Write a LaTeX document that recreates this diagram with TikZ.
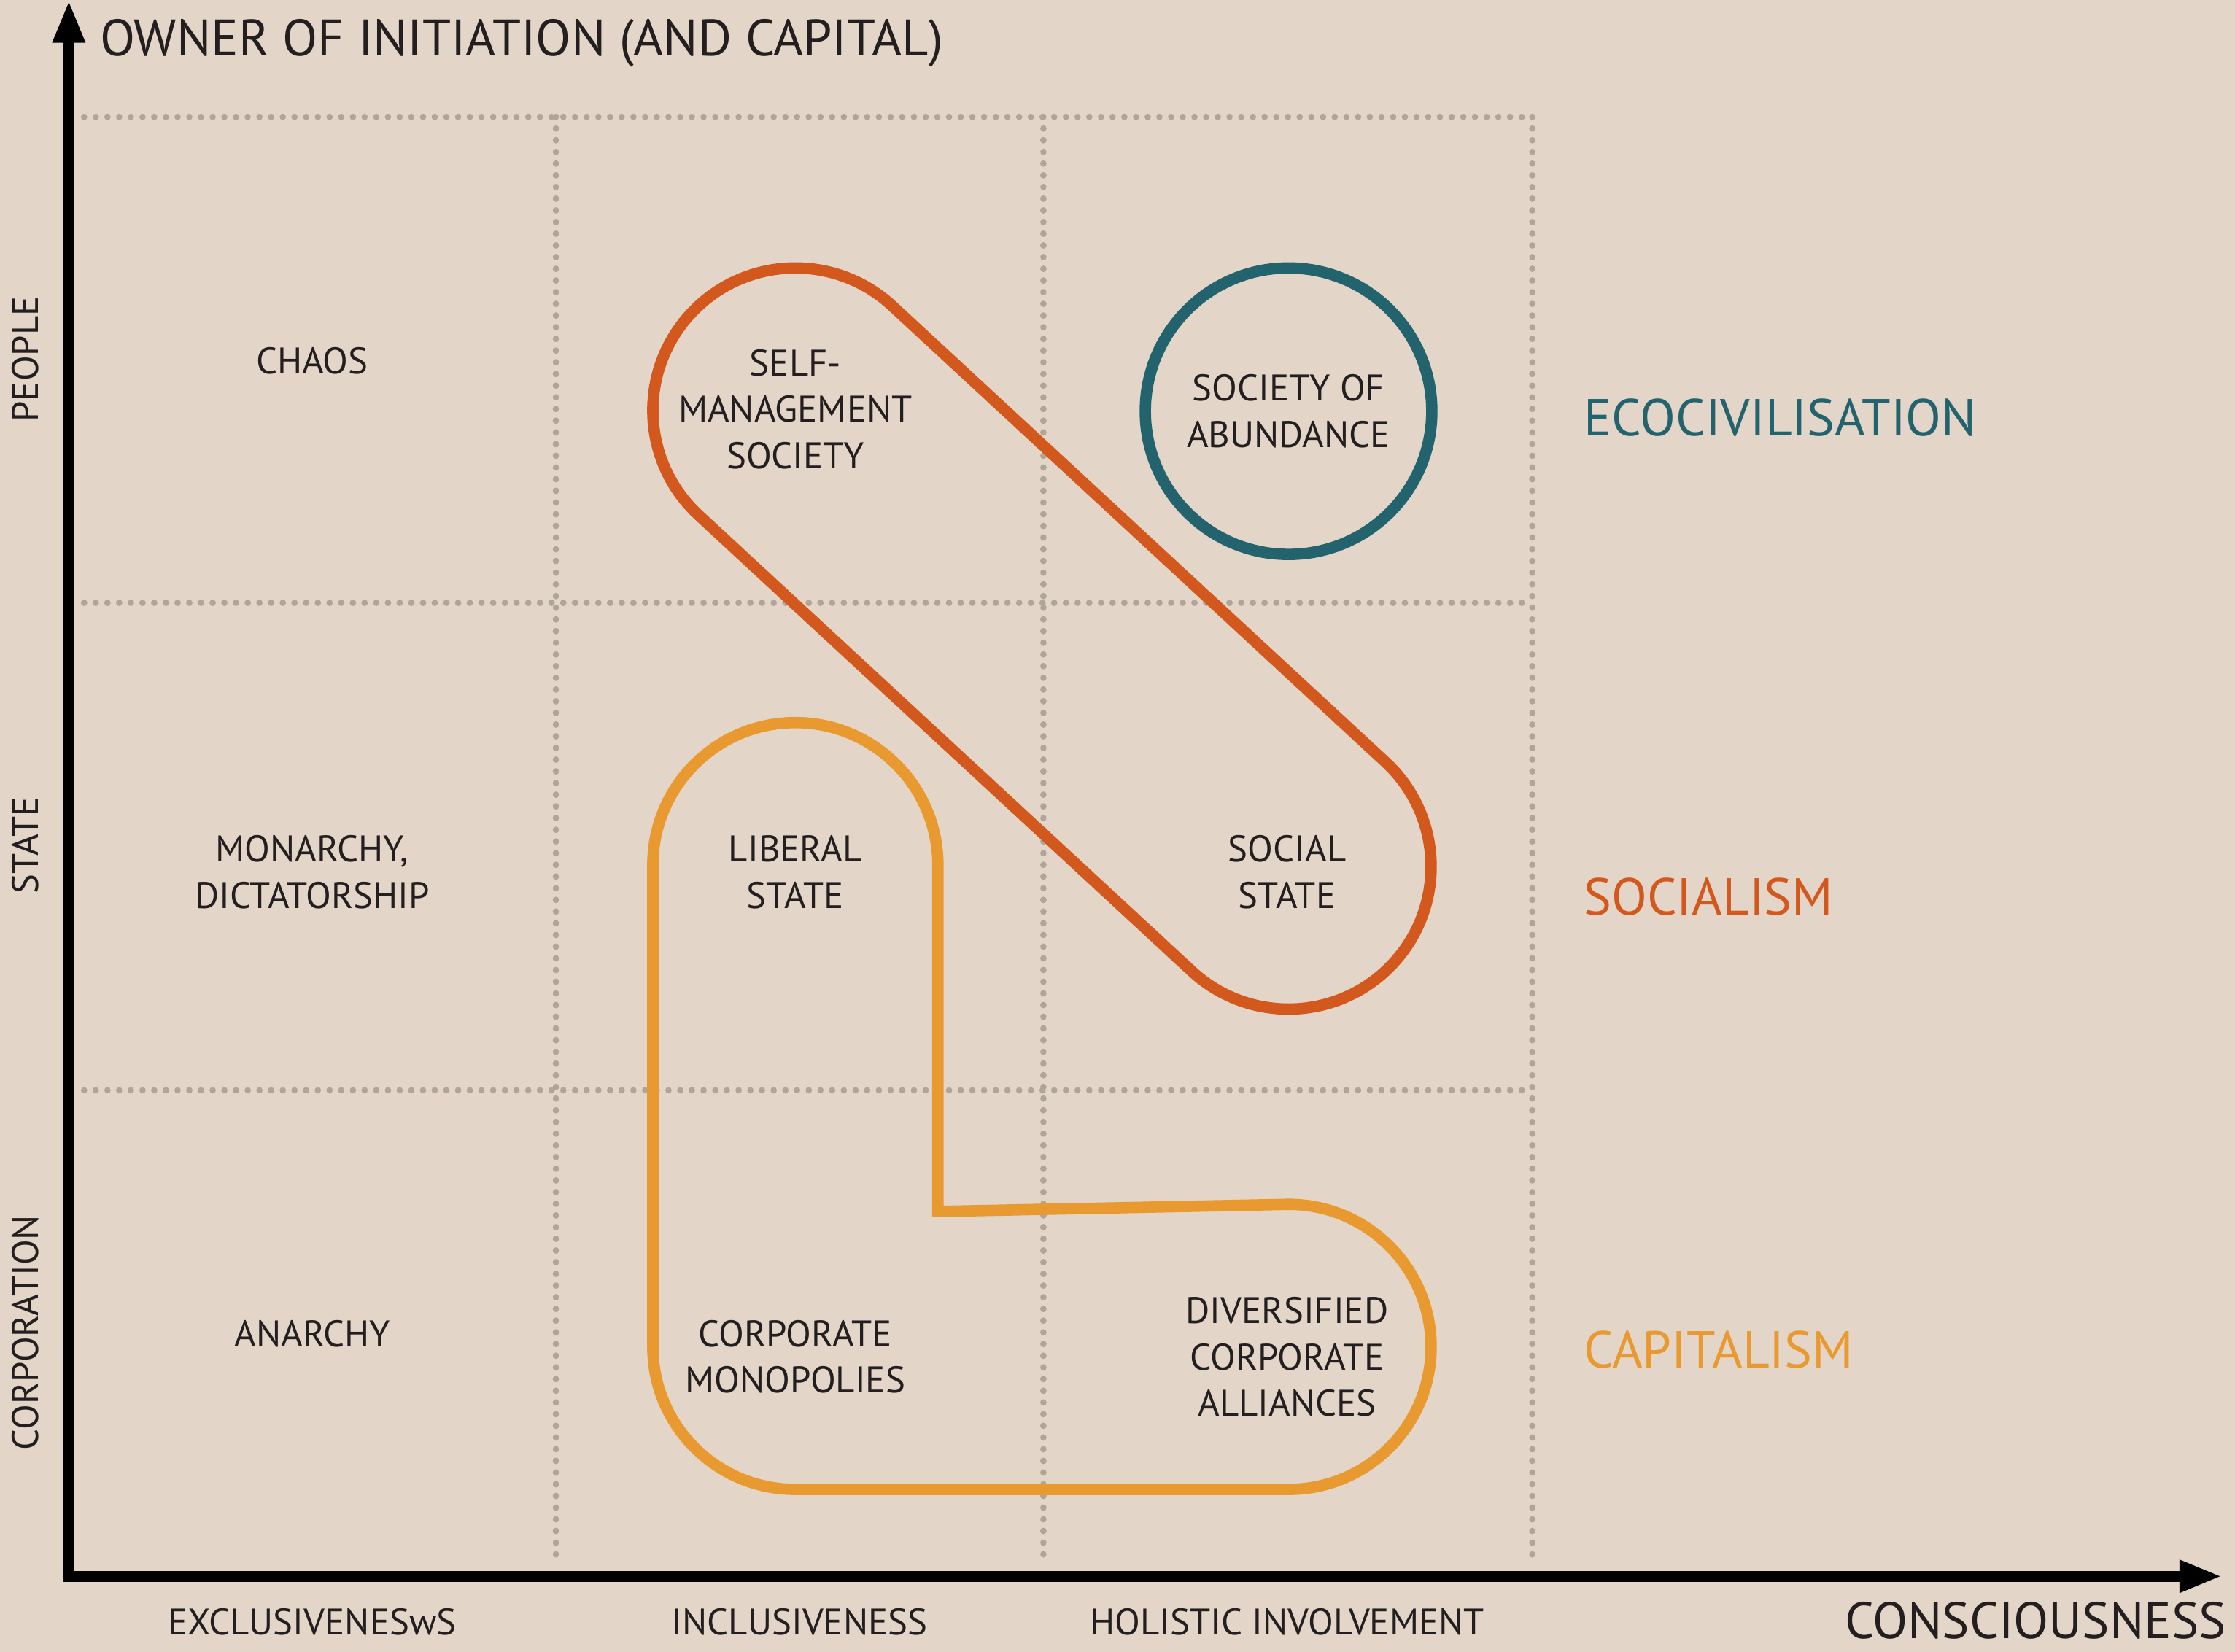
\documentclass[tikz,border=0pt]{standalone}
\usepackage{fontspec}
\setmainfont{PT Sans}
\usetikzlibrary{arrows.meta,calc}

\definecolor{bgbeige}{HTML}{E3D5C7}
\definecolor{gridgray}{HTML}{B0A698}
\definecolor{ecoteal}{HTML}{23636E}
\definecolor{socred}{HTML}{D3581D}
\definecolor{capor}{HTML}{E89A31}
\definecolor{inkblack}{HTML}{231F20}

\tikzset{
  cell/.style={text=inkblack, align=center, inner sep=0pt, font=\fontsize{26}{32.5}\selectfont},
  rowlabel/.style={cell, rotate=90},
  axislabel/.style={text=inkblack, inner sep=0pt, font=\fontsize{36}{43}\selectfont},
  system/.style={inner sep=0pt, anchor=west, font=\fontsize{36.5}{44}\selectfont},
  gridline/.style={draw=gridgray, line width=4.5pt, line cap=round, dash pattern=on 0pt off 8.2pt},
  outline/.style={line width=8pt, line join=miter},
  axis/.style={line width=7.7pt, line join=miter,
    {Triangle[length=30pt,width=21pt]}-{Triangle[length=30pt,width=21pt]}},
}

\begin{document}
\begin{tikzpicture}[x=1pt,y=1pt]
    \fill[bgbeige] (0,0) rectangle (1568,-1159);
    \useasboundingbox (0,0) rectangle (1568,-1159);

    \foreach \y in {82,423,765}
        \draw[gridline] (59,-\y) -- (1075,-\y);
    \foreach \x in {390,732,1075}
        \draw[gridline] (\x,-82) -- (\x,-1098);

    \coordinate (ytip)   at (48.3,0);
    \coordinate (origin) at (48.3,-1106);
    \coordinate (xtip)   at (1559,-1106);
    \draw[axis] (ytip) -- (origin) -- (xtip);

    \node[axislabel, anchor=base west] (owner) at (70,-39) {OWNER OF INITIATION (AND CAPITAL)};
    \node[axislabel, anchor=base east] (consciousness) at (1562,-1149.5) {CONSCIOUSNESS};

    \node[rowlabel] (people)      at (18,-252) {PEOPLE};
    \node[rowlabel] (state)       at (18,-593) {STATE};
    \node[rowlabel] (corporation) at (18,-935) {CORPORATION};

    \node[cell] (exclusive) at (219,-1138) {EXCLUSIVENESwS};
    \node[cell] (inclusive) at (561,-1138) {INCLUSIVENESS};
    \node[cell] (holistic)  at (903,-1138) {HOLISTIC INVOLVEMENT};

    % capitalism outline
    \coordinate (liberalc) at (558,-607);
    \coordinate (monopc)   at (558,-945);
    \coordinate (alliancec) at (904,-945);
    \draw[outline, capor] ($(liberalc)+(100,0)$) arc[start angle=0, end angle=180, radius=100]
        -- ($(monopc)+(-100,0)$) arc[start angle=180, end angle=270, radius=100]
        -- ($(alliancec)+(0,-100)$) arc[start angle=-90, end angle=90, radius=100]
        -- (658,-850) -- cycle;

    % socialism outline
    \coordinate (selfc)   at (558,-288);
    \coordinate (socialc) at (904,-608);
    \draw[outline, socred] ($(selfc)+(47.23:100)$) -- ($(socialc)+(47.23:100)$)
        arc[start angle=47.23, end angle=-132.77, radius=100]
        -- ($(selfc)+(-132.77:100)$) arc[start angle=-132.77, end angle=-312.77, radius=100] -- cycle;

    \node[cell, circle, draw=ecoteal, line width=8pt, minimum size=201pt] (abundance) at (904,-288.5) {SOCIETY OF\\ABUNDANCE};

    \node[cell] (chaos)      at (219,-253) {CHAOS};
    \node[cell] (monarchy)   at (219,-612) {MONARCHY,\\DICTATORSHIP};
    \node[cell] (anarchy)    at (219,-936) {ANARCHY};
    \node[cell] (selfman)    at (558,-287) {SELF-\\MANAGEMENT\\SOCIETY};
    \node[cell] (liberal)    at (558,-612) {LIBERAL\\STATE};
    \node[cell] (social)     at (903,-612) {SOCIAL\\STATE};
    \node[cell] (monopolies) at (558,-952) {CORPORATE\\MONOPOLIES};
    \node[cell] (alliances)  at (903,-952) {DIVERSIFIED\\CORPORATE\\ALLIANCES};

    \node[system, text=ecoteal] (ecociv)     at (1111,-293) {ECOCIVILISATION};
    \node[system, text=socred]  (socialism)  at (1111,-629) {SOCIALISM};
    \node[system, text=capor]   (capitalism) at (1111,-947) {CAPITALISM};
\end{tikzpicture}
\end{document}
